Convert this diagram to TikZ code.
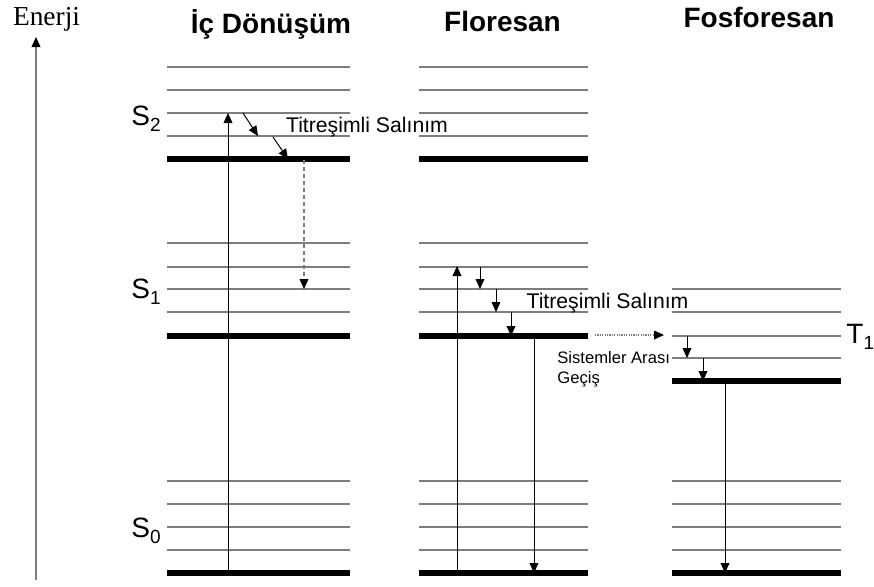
\documentclass[tikz,border=0pt]{standalone}
\usepackage{fontspec}
\setmainfont{Liberation Sans}
\newfontfamily\enerjifont{Liberation Serif}
\usetikzlibrary{arrows.meta}
\definecolor{levgray}{RGB}{125,125,125}
\tikzset{
  lev/.style={draw=levgray, line width=0.9pt},
  groundlev/.style={draw=black, line width=2.6pt},
  arr/.style={draw=black, line width=0.5pt, -{Triangle[length=5pt,width=4.4pt]}},
  dasharr/.style={draw=levgray, line width=0.6pt, dash pattern=on 2pt off 1.5pt, -{Triangle[length=5pt,width=4.4pt,color=black]}},
  dotarr/.style={draw=levgray, line width=0.6pt, dash pattern=on 0.6pt off 0.6pt, -{Triangle[length=5pt,width=4.4pt,color=black]}},
  title/.style={font=\bfseries\fontsize{14}{16}\selectfont, anchor=base, inner sep=0pt},
  lbl/.style={font=\fontsize{10.6}{12}\selectfont, anchor=base, inner sep=0pt},
  small/.style={font=\fontsize{8.3}{10}\selectfont, anchor=base west, inner sep=0pt},
  statelbl/.style={font=\fontsize{14}{16}\selectfont, anchor=base west, inner sep=0pt}
}
\newcommand{\sublbl}[1]{\raisebox{-3.3pt}{\fontsize{9.5}{10}\selectfont #1}}
\begin{document}
\begin{tikzpicture}[x=0.5pt,y=-0.5pt]
\useasboundingbox (0,0) rectangle (874,586);

% energy axis
\coordinate (axb) at (36,580);
\coordinate (axt) at (36,37);
\draw[draw=levgray, line width=0.7pt, -{Triangle[length=5pt,width=4.4pt,color=black]}] (axb) -- (axt);
\node[font=\enerjifont\fontsize{13.7}{15}\selectfont, anchor=base, inner sep=0pt] (enerji) at (46.5,25) {Enerji};

% titles
\node[title] (t1) at (271,33) {İç Dönüşüm};
\node[title] (t2) at (502.5,31) {Floresan};
\node[title] (t3) at (759,27) {Fosforesan};

% S2 levels (columns 1 and 2)
\foreach \y in {67,90,113,136} {
  \draw[lev] (167,\y) -- (350,\y);
  \draw[lev] (419,\y) -- (588,\y);
}
\draw[groundlev] (167,159) -- (350,159);
\draw[groundlev] (419,159) -- (588,159);

% S1 levels
\foreach \y in {243,267,289,312} {
  \draw[lev] (167,\y) -- (350,\y);
  \draw[lev] (419,\y) -- (588,\y);
}
\draw[groundlev] (167,336) -- (350,336);
\draw[groundlev] (419,336) -- (588,336);

% T1 levels (column 3)
\foreach \y in {289,312,336,358} {
  \draw[lev] (672,\y) -- (841,\y);
}
\draw[groundlev] (672,381) -- (841,381);

% S0 levels
\foreach \y in {481,504,527,550} {
  \draw[lev] (167,\y) -- (350,\y);
  \draw[lev] (419,\y) -- (588,\y);
  \draw[lev] (672,\y) -- (841,\y);
}
\draw[groundlev] (167,573) -- (350,573);
\draw[groundlev] (419,573) -- (588,573);
\draw[groundlev] (672,573) -- (841,573);

% state labels
\node[statelbl] (s2) at (131,125) {S\sublbl{2}};
\node[statelbl] (s1) at (131,298) {S\sublbl{1}};
\node[statelbl] (s0) at (131,537) {S\sublbl{0}};
\node[statelbl] (tt1) at (846,343) {T\sublbl{1}};

% column 1 arrows
\coordinate (c1up0) at (228,573);
\coordinate (c1up1) at (228,113);
\draw[arr] (c1up0) -- (c1up1);
\coordinate (d1a) at (243,113);
\coordinate (d1b) at (258,136);
\coordinate (d2a) at (273,137);
\coordinate (d2b) at (288,159);
\draw[arr] (d1a) -- (d1b);
\draw[arr] (d2a) -- (d2b);
\coordinate (ic0) at (304,160);
\coordinate (ic1) at (304,289);
\draw[dasharr] (ic0) -- (ic1);
\node[lbl] (tsal1) at (367,132) {Titreşimli Salınım};

% column 2 arrows
\coordinate (c2up0) at (457,573);
\coordinate (c2up1) at (457,266);
\draw[arr] (c2up0) -- (c2up1);
\coordinate (v1a) at (480,267);
\coordinate (v1b) at (480,289);
\coordinate (v2a) at (496,289);
\coordinate (v2b) at (496,312);
\coordinate (v3a) at (511,312);
\coordinate (v3b) at (511,336);
\draw[arr] (v1a) -- (v1b);
\draw[arr] (v2a) -- (v2b);
\draw[arr] (v3a) -- (v3b);
\coordinate (fl0) at (534,336);
\coordinate (fl1) at (534,573);
\draw[arr] (fl0) -- (fl1);
\node[lbl] (tsal2) at (607.5,308) {Titreşimli Salınım};

% intersystem crossing
\coordinate (isc0) at (595,335);
\coordinate (isc1) at (664,335);
\draw[dotarr] (isc0) -- (isc1);
\node[small] (sa) at (557,363) {Sistemler Arası};
\node[small] (gc) at (557,383) {Geçiş};

% column 3 arrows
\coordinate (w1a) at (687,336);
\coordinate (w1b) at (687,358);
\coordinate (w2a) at (703,358);
\coordinate (w2b) at (703,381);
\draw[arr] (w1a) -- (w1b);
\draw[arr] (w2a) -- (w2b);
\coordinate (ph0) at (725,381);
\coordinate (ph1) at (725,573);
\draw[arr] (ph0) -- (ph1);
\end{tikzpicture}
\end{document}
